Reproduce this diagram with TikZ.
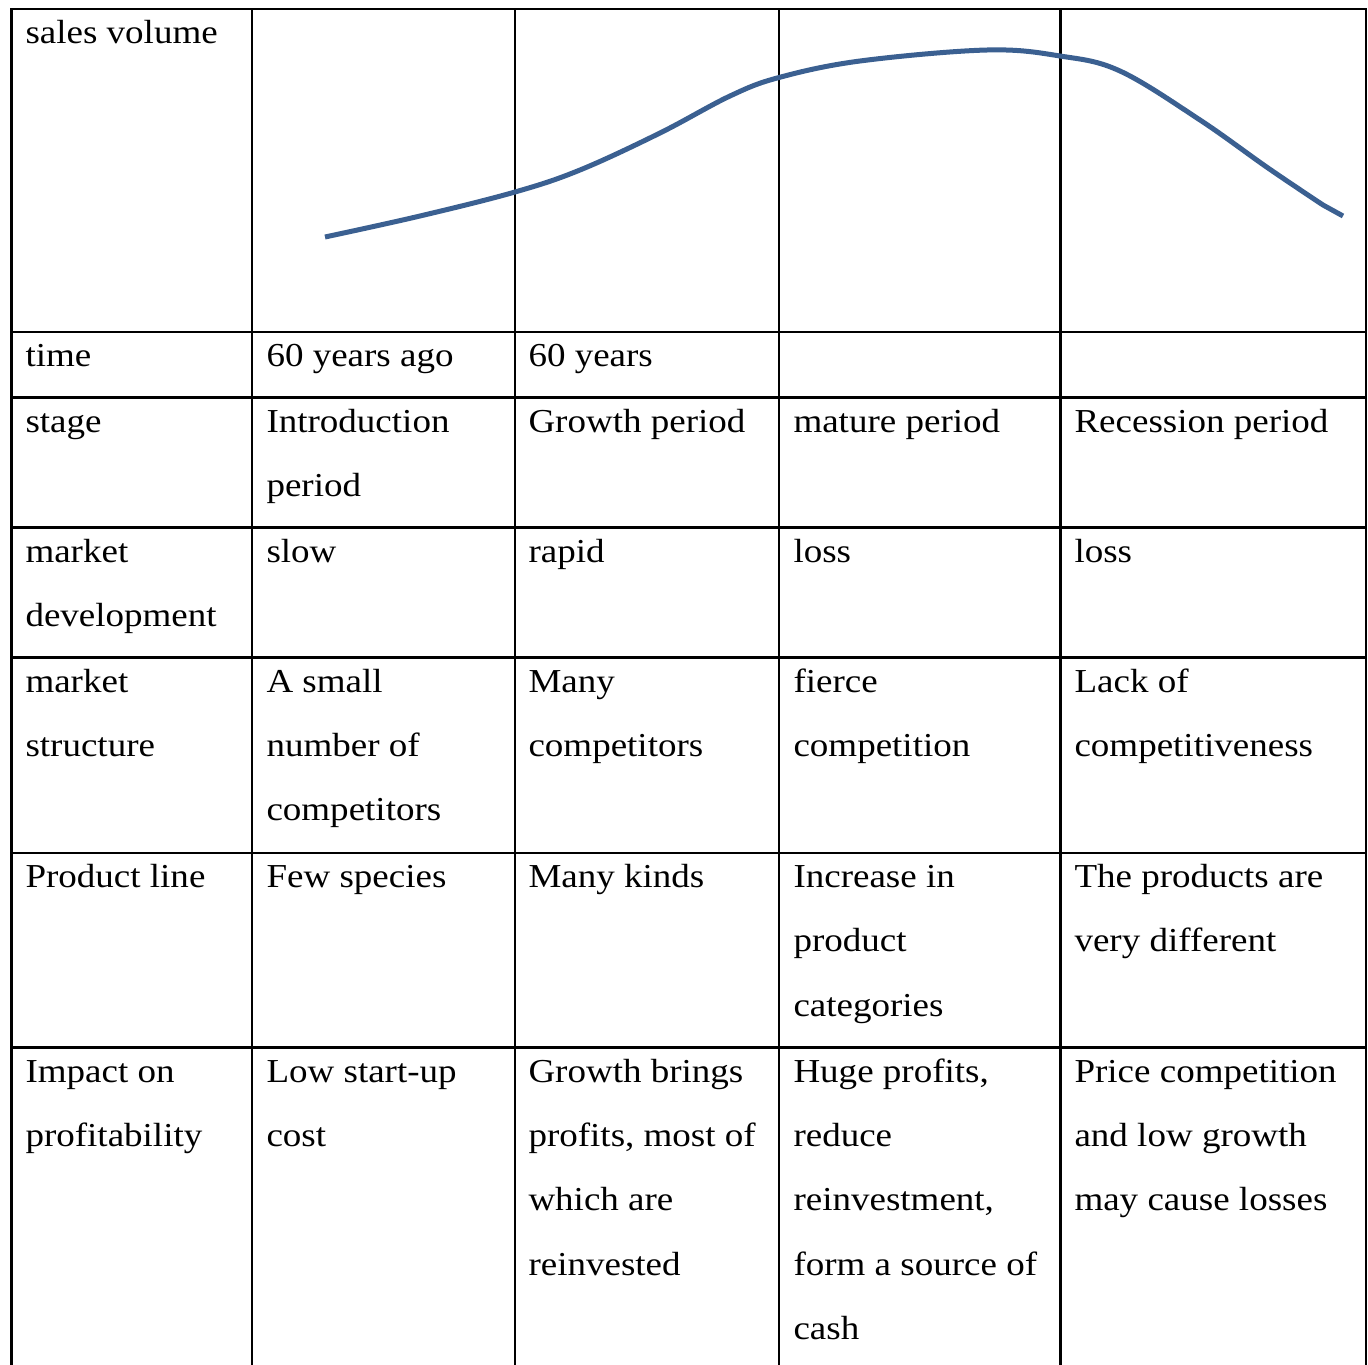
\documentclass[tikz,border=0pt]{standalone}
\usepackage{fontspec}
\setmainfont{Liberation Serif}[FakeStretch=1.105]
\definecolor{curveblue}{RGB}{59,96,145}
\tikzset{
  txt/.style={anchor=base west,inner sep=0pt,outer sep=0pt,font=\fontsize{33.5}{40}\selectfont},
  grid/.style={line width=2.6pt,black},
  salescurve/.style={line width=5pt,curveblue,line join=round}
}
\newcommand\cellt[4]{%
  \foreach \ln [count=\k from 0] in {#4} {\node[txt] (#1-\k) at (#2,#3+\k*64.4) {\ln};}}
\begin{document}
\begin{tikzpicture}[x=1pt,y=-1pt]
\useasboundingbox (0,0) rectangle (1368,1365);
% grid
\draw[grid] (11.5,1366) -- (11.5,9) -- (1366,9) -- (1366,1366);
\foreach \xx in {252,515,779,1060.5} \draw[grid] (\xx,9) -- (\xx,1366);
\foreach \yy in {332,397.5,527.5,657.5,853,1047.5} \draw[grid] (11.5,\yy) -- (1366,\yy);
% curve
\draw[salescurve] plot[smooth,tension=0.6] coordinates {(325,237) (420,216) (515,192) (580,170) (660,133) (730,96) (779,77.5) (860,61) (987,50) (1060,56) (1120,71) (1200,120) (1268,168) (1323,205)} -- (1343,216);
% row 1
\cellt{a1}{25.5}{43.5}{sales volume}
% row 2
\cellt{a2}{25.5}{366.5}{time}
\cellt{b2}{266.5}{366.5}{60 years ago}
\cellt{c2}{528.5}{366.5}{60 years}
% row 3
\cellt{a3}{25.5}{432}{stage}
\cellt{b3}{266.5}{432}{Introduction,period}
\cellt{c3}{528.5}{432}{Growth period}
\cellt{d3}{793.5}{432}{mature period}
\cellt{e3}{1074.5}{432}{Recession period}
% row 4
\cellt{a4}{25.5}{562}{market,development}
\cellt{b4}{266.5}{562}{slow}
\cellt{c4}{528.5}{562}{rapid}
\cellt{d4}{793.5}{562}{loss}
\cellt{e4}{1074.5}{562}{loss}
% row 5
\cellt{a5}{25.5}{692}{market,structure}
\cellt{b5}{266.5}{692}{A small,number of,competitors}
\cellt{c5}{528.5}{692}{Many,competitors}
\cellt{d5}{793.5}{692}{fierce,competition}
\cellt{e5}{1074.5}{692}{Lack of,competitiveness}
% row 6
\cellt{a6}{25.5}{887.5}{Product line}
\cellt{b6}{266.5}{887.5}{Few species}
\cellt{c6}{528.5}{887.5}{Many kinds}
\cellt{d6}{793.5}{887.5}{Increase in,product,categories}
\cellt{e6}{1074.5}{887.5}{The products are,very different}
% row 7
\cellt{a7}{25.5}{1082}{Impact on,profitability}
\cellt{b7}{266.5}{1082}{Low start-up,cost}
\cellt{c7}{528.5}{1082}{Growth brings,{profits, most of},which are,reinvested}
\cellt{d7}{793.5}{1082}{{Huge profits,},reduce,{reinvestment,},form a source of,cash}
\cellt{e7}{1074.5}{1082}{Price competition,and low growth,may cause losses}
\end{tikzpicture}
\end{document}
